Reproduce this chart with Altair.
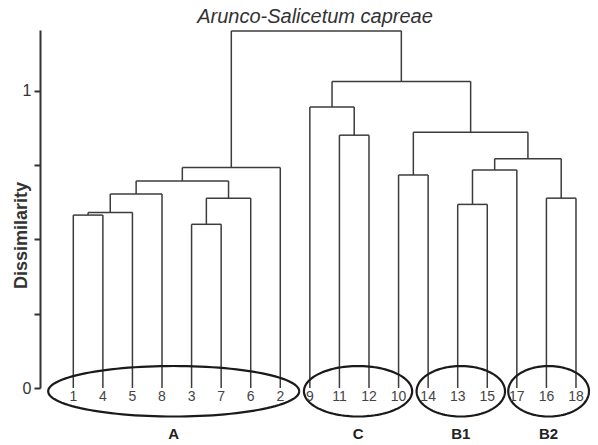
import altair as alt
import numpy as np
import pandas as pd

# ---------------- data ----------------
leaves = ["1", "4", "5", "8", "3", "7", "6", "2", "9", "11", "12", "10",
          "14", "13", "15", "17", "16", "18"]

# agglomeration steps: node m<i> joins merge_a[i] and merge_b[i] at merge_height[i]
merge_a = ["1", "m0", "m1", "3", "m3", "m2", "m5", "11", "9", "10", "13",
           "m10", "16", "m11", "m9", "m8", "m6"]
merge_b = ["4", "5", "8", "7", "6", "m4", "2", "12", "m7", "14", "15",
           "17", "18", "m12", "m13", "m14", "m15"]
merge_height = [0.582, 0.591, 0.653, 0.551, 0.639, 0.697, 0.742, 0.851,
                0.946, 0.717, 0.618, 0.734, 0.639, 0.772, 0.861, 1.032, 1.202]

groups = ["A", "C", "B1", "B2"]
group_first = ["1", "9", "14", "17"]
group_last = ["2", "10", "15", "18"]

# ---------------- build dendrogram segments ----------------
pos = {lab: (float(i), 0.0) for i, lab in enumerate(leaves)}
segs = []
for i, (a, b, h) in enumerate(zip(merge_a, merge_b, merge_height)):
    xa, ha = pos[a]
    xb, hb = pos[b]
    segs.append(dict(x=xa, x2=xa, y=ha, y2=h))
    segs.append(dict(x=xb, x2=xb, y=hb, y2=h))
    segs.append(dict(x=xa, x2=xb, y=h, y2=h))
    pos[f"m{i}"] = ((xa + xb) / 2.0, h)
seg_df = pd.DataFrame(segs)

leaf_df = pd.DataFrame({"x": np.arange(len(leaves), dtype=float), "label": leaves})

# ellipse styling (padding around the leaf span, in leaf units)
pad_left = {"A": 0.85, "C": 0.2, "B1": 0.39, "B2": 0.29}
pad_right = {"A": 0.64, "C": 0.46, "B1": 0.6, "B2": 0.44}
ell_cy, ell_ry = -0.011, 0.085

rows = []
grows = []
t = np.linspace(0, 2 * np.pi, 121)
for g, f, l in zip(groups, group_first, group_last):
    lo = leaves.index(f) - pad_left[g]
    hi = leaves.index(l) + pad_right[g]
    cx, rx = (lo + hi) / 2, (hi - lo) / 2
    for k, tt in enumerate(t):
        rows.append(dict(g=g, k=k, x=cx + rx * np.cos(tt), y=ell_cy + ell_ry * np.sin(tt)))
    grows.append(dict(g=g, x=cx))
ell_df = pd.DataFrame(rows)
grp_df = pd.DataFrame(grows)

# ---------------- chart ----------------
FONT = "Liberation Sans"
xs = alt.Scale(domain=[-1.126, 17.474], nice=False, zero=False)
ys = alt.Scale(domain=[0, 1.205], nice=False, zero=False)

yaxis = alt.Axis(values=[0, 0.25, 0.5, 0.75, 1], title="Dissimilarity",
                 labelExpr="datum.value == 0 ? '0' : (datum.value == 1 ? '1' : '')",
                 grid=False, tickSize=6, tickWidth=2, tickColor="#333",
                 domainColor="#333", domainWidth=2, labelFont=FONT,
                 labelFontSize=16, labelColor="#333", labelPadding=3,
                 titleFont=FONT, titleFontSize=18, titleFontWeight="bold",
                 titleColor="#333", titleAngle=270, titleX=-14, titleY=205,
                 titleAlign="center", titleBaseline="alphabetic")

rules = alt.Chart(seg_df).mark_rule(color="#3c3c3c", strokeWidth=1.5).encode(
    x=alt.X("x:Q", scale=xs, axis=None),
    x2="x2",
    y=alt.Y("y:Q", scale=ys, axis=yaxis),
    y2="y2",
)

leaf_text = alt.Chart(leaf_df).mark_text(font=FONT, fontSize=14, color="#444",
                                         baseline="middle").encode(
    x=alt.X("x:Q", scale=xs, axis=None),
    y=alt.value(367),
    text="label:N",
)

ellipses = alt.Chart(ell_df).mark_line(color="#1a1a1a", strokeWidth=2.2).encode(
    x=alt.X("x:Q", scale=xs, axis=None),
    y=alt.Y("y:Q", scale=ys, axis=yaxis),
    detail="g:N",
    order="k:Q",
)

grp_text = alt.Chart(grp_df).mark_text(font=FONT, fontSize=15, fontWeight="bold",
                                       color="#222", baseline="middle").encode(
    x=alt.X("x:Q", scale=xs, axis=None),
    y=alt.value(404),
    text="g:N",
)

chart = alt.layer(rules, ellipses, leaf_text, grp_text).properties(
    width=550, height=358,
    padding={"left": 32, "top": 22, "right": 0, "bottom": 57},
    autosize=alt.AutoSizeParams(type="none"),
    background="white",
    title=alt.TitleParams("Arunco-Salicetum capreae", font=FONT, fontSize=20,
                          fontStyle="italic", fontWeight="normal", color="#333",
                          offset=3, anchor="middle"),
).configure_view(stroke=None)

chart.save("out.html", embed_options={"renderer": "svg", "actions": False})
